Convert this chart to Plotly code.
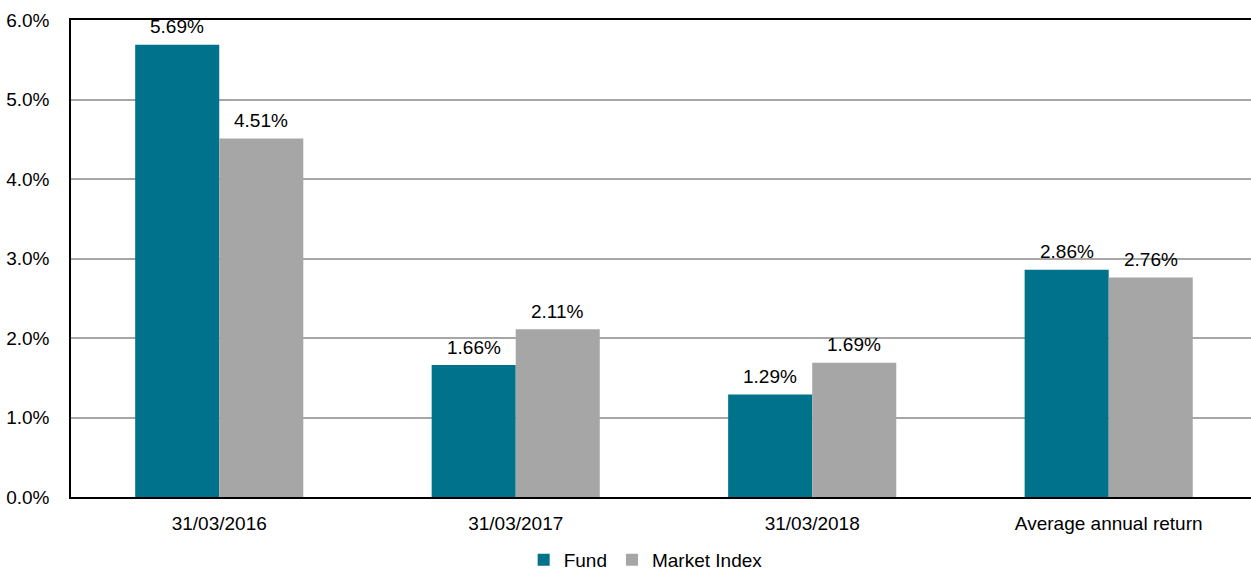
import plotly.graph_objects as go

categories = ["31/03/2016", "31/03/2017", "31/03/2018", "Average annual return"]
fund = [5.69, 1.66, 1.29, 2.86]
market_index = [4.51, 2.11, 1.69, 2.76]
y_ticks = [0, 1, 2, 3, 4, 5, 6]
y_tick_labels = ["0.0%", "1.0%", "2.0%", "3.0%", "4.0%", "5.0%", "6.0%"]

FUND_COLOR = "#00728B"
INDEX_COLOR = "#A6A6A6"
FONT = dict(family="Liberation Sans, Arial, sans-serif", size=19, color="#000000")

x_idx = list(range(len(categories)))

fig = go.Figure()
fig.add_trace(go.Bar(x=x_idx, y=fund, name="Fund", marker_color=FUND_COLOR,
                     marker_line_width=0))
fig.add_trace(go.Bar(x=x_idx, y=market_index, name="Market Index", marker_color=INDEX_COLOR,
                     marker_line_width=0))

for series, shift in ((fund, -42), (market_index, 42)):
    for i, v in enumerate(series):
        fig.add_annotation(x=i, y=v, xref="x", yref="y", text=f"{v:.2f}%",
                           showarrow=False, xshift=shift, yanchor="middle", yshift=18,
                           font=FONT)

fig.update_layout(
    width=1251, height=570,
    margin=dict(l=71, r=0, t=20, b=73, autoexpand=False),
    plot_bgcolor="white", paper_bgcolor="white",
    font=FONT,
    barmode="group", bargap=0.433, bargroupgap=0,
    showlegend=True,
    legend=dict(orientation="h", x=0.487, xanchor="center", y=-0.132, yanchor="middle",
                font=FONT, itemwidth=30, traceorder="normal"),
)
fig.update_xaxes(
    range=[-0.5, 3.48], tickmode="array", tickvals=x_idx, ticktext=categories,
    showline=True, linecolor="black", linewidth=1.5, mirror=True,
    showgrid=False, ticks="", ticklabelstandoff=8, zeroline=False, automargin=False,
)
fig.update_yaxes(
    range=[0, 6], tickmode="array", tickvals=y_ticks, ticktext=y_tick_labels,
    showline=True, linecolor="black", linewidth=1.5,
    showgrid=True, gridcolor="#A6A6A6", gridwidth=1.5,
    ticks="", ticklabelstandoff=16, zeroline=False, automargin=False,
)

fig.write_html("out.html", config={"displayModeBar": False},
               post_script="document.body.style.margin='0';")
